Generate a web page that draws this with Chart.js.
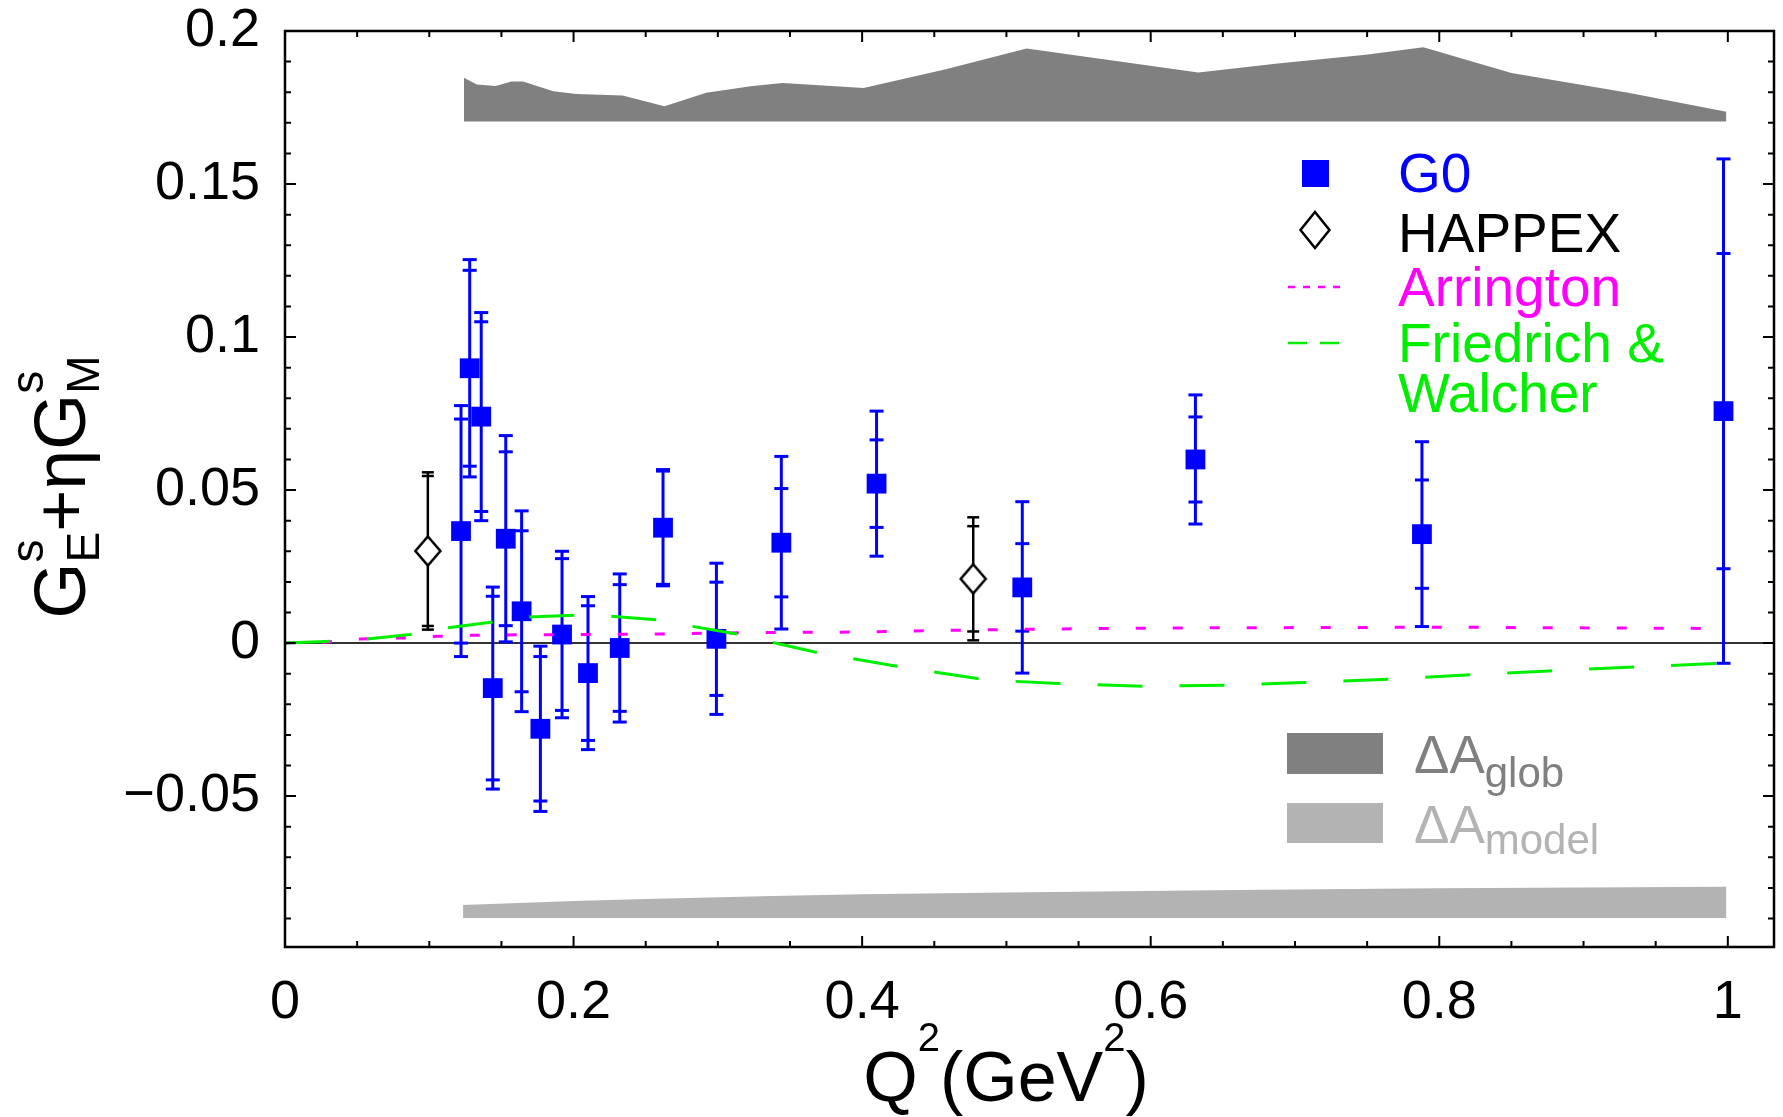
<!DOCTYPE html>
<html><head><meta charset="utf-8">
<script src="https://cdn.jsdelivr.net/npm/chart.js@4.4.1/dist/chart.umd.min.js"></script>
<style>html,body{margin:0;padding:0;background:#fff;overflow:hidden}</style>
</head><body>
<canvas id="c" width="1783" height="1117" style="display:block;width:1783px;height:1117px"></canvas>
<script>
// ---------- DATA ----------
// G0 measurements
const q2G0   = [0.122, 0.128, 0.136, 0.144, 0.153, 0.164, 0.177, 0.192, 0.210, 0.232, 0.262, 0.299, 0.344, 0.410, 0.511, 0.631, 0.788, 0.997];
const valG0  = [0.0366, 0.0898, 0.0740, -0.0147, 0.0341, 0.0104, -0.0280, 0.0028, -0.0098, -0.0016, 0.0377, 0.0014, 0.0328, 0.0521, 0.0182, 0.0600, 0.0356, 0.0758];
const statG0 = [0.0366, 0.0320, 0.0310, 0.0300, 0.0284, 0.0263, 0.0236, 0.0248, 0.0220, 0.0207, 0.0185, 0.0185, 0.0177, 0.0143, 0.0143, 0.0139, 0.0177, 0.0515];
const totG0  = [0.0410, 0.0355, 0.0340, 0.0330, 0.0337, 0.0328, 0.0270, 0.0272, 0.0250, 0.0242, 0.0190, 0.0247, 0.0282, 0.0237, 0.0280, 0.0211, 0.0302, 0.0824];
// HAPPEX measurements
const q2HAP   = [0.099, 0.477];
const valHAP  = [0.0301, 0.0210];
const statHAP = [0.0245, 0.0172];
const totHAP  = [0.0257, 0.0201];
// Arrington curve
const q2Arr  = [0, 0.028, 0.052, 0.082, 0.106, 0.120, 0.160, 0.209, 0.262, 0.300, 0.340, 0.394, 0.416, 0.479, 0.570, 0.650, 0.730, 0.790, 0.850, 0.930, 0.986];
const valArr = [0, 0.0003, 0.0013, 0.0017, 0.0022, 0.0025, 0.0027, 0.0028, 0.0030, 0.0033, 0.0035, 0.0036, 0.0038, 0.0043, 0.0048, 0.0050, 0.0051, 0.0052, 0.0051, 0.0049, 0.0048];
// Friedrich & Walcher curve
const q2FW  = [0, 0.028, 0.052, 0.087, 0.113, 0.144, 0.169, 0.201, 0.226, 0.257, 0.282, 0.313, 0.339, 0.368, 0.394, 0.421, 0.449, 0.480, 0.506, 0.536, 0.595, 0.652, 0.706, 0.765, 0.822, 0.876, 0.935, 0.991, 0.998];
const valFW = [0, 0.0005, 0.0011, 0.0028, 0.0050, 0.0069, 0.0085, 0.0091, 0.0088, 0.0076, 0.0055, 0.0030, 0.0001, -0.0030, -0.0051, -0.0073, -0.0094, -0.0116, -0.0125, -0.0132, -0.0141, -0.0138, -0.0129, -0.0118, -0.0103, -0.0091, -0.0078, -0.0067, -0.0066];
// Global systematic band (Delta A_glob)
const q2Glob   = [0.124, 0.133, 0.146, 0.157, 0.165, 0.186, 0.202, 0.234, 0.263, 0.292, 0.324, 0.345, 0.401, 0.458, 0.514, 0.633, 0.688, 0.749, 0.789, 0.850, 0.931, 0.999];
const topGlob  = [0.1847, 0.1825, 0.1820, 0.1835, 0.1835, 0.1803, 0.1794, 0.1789, 0.1754, 0.1798, 0.1820, 0.1830, 0.1814, 0.1875, 0.1943, 0.1864, 0.1894, 0.1922, 0.1947, 0.1863, 0.1798, 0.1736];
const baseGlob = 0.1704;
// Model band (Delta A_model)
const q2Model   = [0.1234, 0.200, 0.250, 0.338, 0.400, 0.500, 0.659, 0.800, 0.999];
const topModel  = [-0.0856, -0.0843, -0.0836, -0.0826, -0.0821, -0.0815, -0.0807, -0.0801, -0.0796];
const baseModel = -0.0898;
// Axes
const xRange = [0, 1.032];
const yRange = [-0.0993, 0.2];
const xMajorStep = 0.2, xMinorStep = 0.05;
const yMajorStep = 0.05, yMinorStep = 0.01;
// Legend labels
const legendLabels = ['G0', 'HAPPEX', 'Arrington', 'Friedrich &', 'Walcher'];

// ---------- STYLE ----------
const FONT = "'Liberation Sans', Arial, Helvetica, sans-serif";
const BLUE = '#0000ff', MAGENTA = '#ff00ff', GREEN = '#00ee00';
const GLOB = '#808080', MODEL = '#b3b3b3';

function pts(xs, ys) { return xs.map((x, i) => ({x: x, y: ys[i]})); }

function makeDiamond(w, h, lw) {
  const c = document.createElement('canvas');
  c.width = Math.ceil(w + lw * 2); c.height = Math.ceil(h + lw * 2);
  const g = c.getContext('2d');
  const cx = c.width / 2, cy = c.height / 2;
  g.beginPath();
  g.moveTo(cx, cy - h / 2); g.lineTo(cx + w / 2, cy); g.lineTo(cx, cy + h / 2); g.lineTo(cx - w / 2, cy); g.closePath();
  g.fillStyle = '#fff'; g.fill();
  g.lineWidth = lw; g.strokeStyle = '#000'; g.stroke();
  return c;
}

function fmt(v) { return String(+v.toFixed(3)).replace('-', '\u2212'); }

// rich text: items {t,size,dy} or {stack:[...]}
function richWidth(ctx, items) {
  let w = 0;
  items.forEach(it => {
    if (it.stack) {
      let m = 0;
      it.stack.forEach(s => { ctx.font = s.size + 'px ' + FONT; m = Math.max(m, ctx.measureText(s.t).width); });
      w += m;
    } else { ctx.font = it.size + 'px ' + FONT; w += ctx.measureText(it.t).width; }
  });
  return w;
}
function drawRich(ctx, items, x, y) {
  let cx = x;
  items.forEach(it => {
    if (it.stack) {
      let m = 0;
      it.stack.forEach(s => {
        ctx.font = s.size + 'px ' + FONT;
        ctx.fillText(s.t, cx, y + s.dy);
        m = Math.max(m, ctx.measureText(s.t).width);
      });
      cx += m;
    } else {
      ctx.font = it.size + 'px ' + FONT;
      ctx.fillText(it.t, cx, y + (it.dy || 0));
      cx += ctx.measureText(it.t).width;
    }
  });
}

// ---------- PLUGINS ----------
const zeroLine = {
  id: 'zeroLine',
  beforeDatasetsDraw(chart) {
    const ctx = chart.ctx, a = chart.chartArea, y = chart.scales.y.getPixelForValue(0);
    ctx.save(); ctx.strokeStyle = '#333'; ctx.lineWidth = 2;
    ctx.beginPath(); ctx.moveTo(a.left, y); ctx.lineTo(a.right, y); ctx.stroke(); ctx.restore();
  }
};

const errorBars = {
  id: 'errorBars',
  beforeDatasetDraw(chart, args) {
    const ds = chart.data.datasets[args.index];
    if (!ds.errStat) return;
    const ctx = chart.ctx, xs = chart.scales.x, ys = chart.scales.y;
    ctx.save();
    ctx.strokeStyle = ds.errColor; ctx.lineWidth = ds.errWidth; ctx.lineCap = 'butt';
    ds.data.forEach((p, i) => {
      const px = xs.getPixelForValue(p.x);
      const t = ys.getPixelForValue(p.y + ds.errTot[i]);
      const b = ys.getPixelForValue(p.y - ds.errTot[i]);
      const st = ys.getPixelForValue(p.y + ds.errStat[i]);
      const sb = ys.getPixelForValue(p.y - ds.errStat[i]);
      ctx.beginPath(); ctx.moveTo(px, t); ctx.lineTo(px, b); ctx.stroke();
      [t, b, st, sb].forEach(yy => {
        ctx.beginPath(); ctx.moveTo(px - ds.capHalf, yy); ctx.lineTo(px + ds.capHalf, yy); ctx.stroke();
      });
    });
    ctx.restore();
  }
};

const frameTicks = {
  id: 'frameTicks',
  afterDatasetsDraw(chart) {
    const ctx = chart.ctx, a = chart.chartArea, xs = chart.scales.x, ys = chart.scales.y;
    ctx.save();
    ctx.strokeStyle = '#000'; ctx.lineWidth = 2;
    const isMajor = (v, step) => Math.abs(v / step - Math.round(v / step)) < 1e-6;
    for (let k = Math.ceil(xRange[0] / xMinorStep - 1e-9); k * xMinorStep <= xRange[1] + 1e-9; k++) {
      const v = k * xMinorStep, px = xs.getPixelForValue(v);
      const L = isMajor(v, xMajorStep) ? 11 : 6;
      ctx.beginPath();
      ctx.moveTo(px, a.bottom); ctx.lineTo(px, a.bottom - L);
      ctx.moveTo(px, a.top); ctx.lineTo(px, a.top + L);
      ctx.stroke();
    }
    for (let k = Math.ceil(yRange[0] / yMinorStep - 1e-9); k * yMinorStep <= yRange[1] + 1e-9; k++) {
      const v = k * yMinorStep, py = ys.getPixelForValue(v);
      const L = isMajor(v, yMajorStep) ? 11 : 6;
      ctx.beginPath();
      ctx.moveTo(a.left, py); ctx.lineTo(a.left + L, py);
      ctx.moveTo(a.right, py); ctx.lineTo(a.right - L, py);
      ctx.stroke();
    }
    ctx.lineWidth = 2.5;
    ctx.strokeRect(a.left, a.top, a.right - a.left, a.bottom - a.top);
    ctx.restore();
  }
};

const titlesLegend = {
  id: 'titlesLegend',
  afterDraw(chart) {
    const ctx = chart.ctx;
    ctx.save();
    ctx.fillStyle = '#000'; ctx.textBaseline = 'alphabetic'; ctx.textAlign = 'left';
    // x-axis title: Q^2(GeV^2)
    const xt = [{t: 'Q', size: 70}, {t: '2', size: 40, dy: -50}, {t: '(GeV', size: 70}, {t: '2', size: 40, dy: -50}, {t: ')', size: 70}];
    const xw = richWidth(ctx, xt);
    drawRich(ctx, xt, 1006 - xw / 2, 1101);
    // y-axis title: G_E^s + eta G_M^s (rotated)
    const yt = [
      {t: 'G', size: 72},
      {stack: [{t: 's', size: 46, dy: -42}, {t: 'E', size: 46, dy: 14}]},
      {t: '+', size: 72},
      {t: '\u03B7', size: 72},
      {t: 'G', size: 72},
      {stack: [{t: 's', size: 46, dy: -42}, {t: 'M', size: 46, dy: 14}]}
    ];
    const yw = richWidth(ctx, yt);
    ctx.save();
    ctx.translate(85, 487); ctx.rotate(-Math.PI / 2);
    drawRich(ctx, yt, -yw / 2, 0);
    ctx.restore();

    // ---- legend ----
    ctx.font = '55px ' + FONT;
    // G0
    ctx.fillStyle = BLUE; ctx.fillRect(1302, 160, 27, 27);
    ctx.fillText(legendLabels[0], 1398, 192);
    // HAPPEX
    ctx.beginPath();
    ctx.moveTo(1315, 212); ctx.lineTo(1329.5, 230); ctx.lineTo(1315, 248); ctx.lineTo(1300.5, 230); ctx.closePath();
    ctx.fillStyle = '#fff'; ctx.fill(); ctx.strokeStyle = '#000'; ctx.lineWidth = 2.5; ctx.stroke();
    ctx.fillStyle = '#000'; ctx.fillText(legendLabels[1], 1398, 252);
    // Arrington
    ctx.strokeStyle = MAGENTA; ctx.lineWidth = 2.5; ctx.setLineDash([7, 8]);
    ctx.beginPath(); ctx.moveTo(1288, 287); ctx.lineTo(1344, 287); ctx.stroke();
    ctx.fillStyle = MAGENTA; ctx.fillText(legendLabels[2], 1398, 306);
    // Friedrich & Walcher
    ctx.strokeStyle = GREEN; ctx.setLineDash([19, 13]);
    ctx.beginPath(); ctx.moveTo(1288, 343); ctx.lineTo(1341, 343); ctx.stroke();
    ctx.setLineDash([]);
    ctx.fillStyle = GREEN; ctx.fillText(legendLabels[3], 1398, 362); ctx.fillText(legendLabels[4], 1398, 412);
    // Delta A boxes
    ctx.fillStyle = GLOB; ctx.fillRect(1287, 733, 96, 41);
    ctx.fillStyle = MODEL; ctx.fillRect(1287, 803, 96, 40);
    ctx.fillStyle = GLOB;
    drawRich(ctx, [{t: '\u0394A', size: 53}, {t: 'glob', size: 42, dy: 14}], 1414, 773);
    ctx.fillStyle = MODEL;
    drawRich(ctx, [{t: '\u0394A', size: 53}, {t: 'model', size: 42, dy: 11}], 1414, 843);
    ctx.restore();
  }
};

function zeroPad(s) { s.paddingTop = 0; s.paddingBottom = 0; s.paddingLeft = 0; s.paddingRight = 0; }

// ---------- CHART ----------
Chart.defaults.font.family = FONT;
const diamond = makeDiamond(25, 29, 2.5);

new Chart(document.getElementById('c').getContext('2d'), {
  type: 'scatter',
  data: {
    datasets: [
      {label: 'Friedrich & Walcher', type: 'line', data: pts(q2FW, valFW), showLine: true,
       borderColor: GREEN, borderWidth: 3, borderDash: [45, 37], pointRadius: 0, fill: false, tension: 0},
      {label: 'Arrington', type: 'line', data: pts(q2Arr, valArr), showLine: true,
       borderColor: MAGENTA, borderWidth: 3, borderDash: [10, 27], pointRadius: 0, fill: false, tension: 0},
      {label: 'G0', data: pts(q2G0, valG0), showLine: false, pointStyle: 'rect', pointRadius: 14,
       backgroundColor: BLUE, borderColor: BLUE, borderWidth: 0,
       errStat: statG0, errTot: totG0, errColor: BLUE, errWidth: 3, capHalf: 7},
      {label: 'HAPPEX', data: pts(q2HAP, valHAP), showLine: false, pointStyle: diamond, pointRadius: 14,
       errStat: statHAP, errTot: totHAP, errColor: '#000', errWidth: 2.5, capHalf: 6},
      {label: '\u0394A model', type: 'line', data: pts(q2Model, topModel), showLine: true,
       borderColor: 'rgba(0,0,0,0)', borderWidth: 0, pointRadius: 0, backgroundColor: MODEL,
       fill: {value: baseModel}, tension: 0},
      {label: '\u0394A glob', type: 'line', data: pts(q2Glob, topGlob), showLine: true,
       borderColor: 'rgba(0,0,0,0)', borderWidth: 0, pointRadius: 0, backgroundColor: GLOB,
       fill: {value: baseGlob}, tension: 0}
    ]
  },
  options: {
    responsive: false, animation: false, events: [],
    layout: {autoPadding: false, padding: {left: 0, top: 31, right: 9, bottom: 0}},
    plugins: {legend: {display: false}, tooltip: {enabled: false}, title: {display: false}},
    scales: {
      x: {type: 'linear', position: 'bottom', min: xRange[0], max: xRange[1],
          afterFit(s) { s.height = 170; zeroPad(s); },
          grid: {display: false, drawTicks: false}, border: {display: false},
          ticks: {stepSize: xMajorStep, includeBounds: false, autoSkip: false, maxRotation: 0,
                  padding: 29, color: '#000', font: {size: 54, lineHeight: 1}, callback: v => fmt(v)}},
      y: {type: 'linear', position: 'left', min: yRange[0], max: yRange[1],
          afterFit(s) { s.width = 285; zeroPad(s); },
          grid: {display: false, drawTicks: false}, border: {display: false},
          ticks: {stepSize: yMajorStep, includeBounds: false, autoSkip: false,
                  padding: 25, color: '#000', font: {size: 54, lineHeight: 1}, callback: v => fmt(v)}}
    }
  },
  plugins: [zeroLine, errorBars, frameTicks, titlesLegend]
});
</script>
</body></html>
